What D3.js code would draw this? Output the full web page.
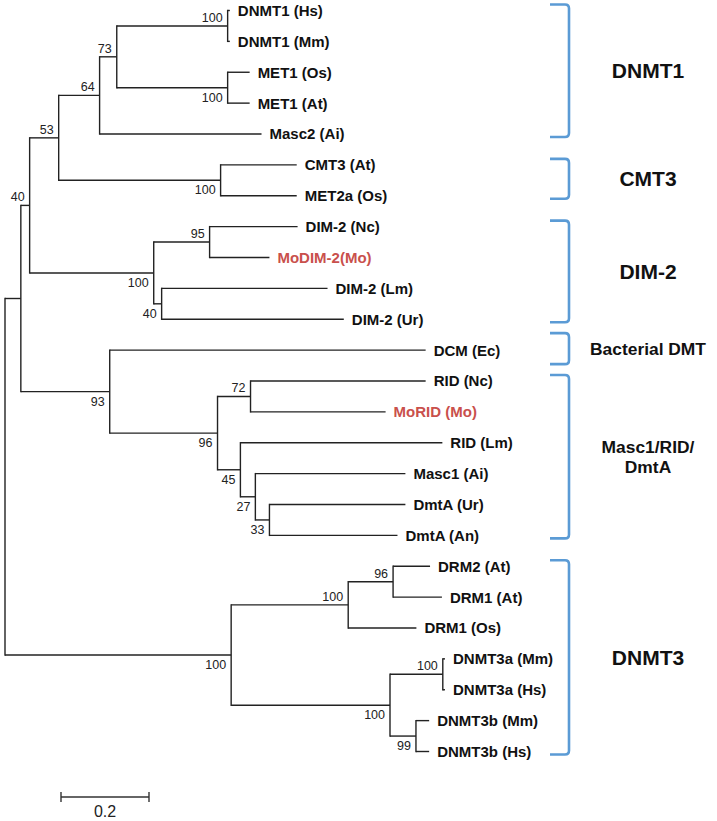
<!DOCTYPE html>
<html><head><meta charset="utf-8">
<script src="https://cdn.jsdelivr.net/npm/d3@7"></script>
<style>body{margin:0;background:#fff}</style>
</head><body>
<svg id="chart" width="717" height="821"></svg>
<script>
// ---- DATA ----
// tree nodes in pre-order: name, parent, branch length (substitutions/site), bootstrap
const nodeNames = ["root","n40","n53","nA","nB","nC","nDNMT1","DNMT1 (Hs)","DNMT1 (Mm)","nMET1","MET1 (Os)","MET1 (At)","Masc2 (Ai)","nCMT3","CMT3 (At)","MET2a (Os)","nDIM","n95","DIM-2 (Nc)","MoDIM-2(Mo)","n40b","DIM-2 (Lm)","DIM-2 (Ur)","n93","DCM (Ec)","n96","n72","RID (Nc)","MoRID (Mo)","n45","RID (Lm)","n27","Masc1 (Ai)","n33","DmtA (Ur)","DmtA (An)","nD3","nDRM","n96b","DRM2 (At)","DRM1 (At)","DRM1 (Os)","nDNMT3","n100c","DNMT3a (Mm)","DNMT3a (Hs)","n99","DNMT3b (Mm)","DNMT3b (Hs)"];
const parentNames = [null,"root","n40","n53","nA","nB","nC","nDNMT1","nDNMT1","nC","nMET1","nMET1","nB","nA","nCMT3","nCMT3","n53","nDIM","n95","n95","nDIM","n40b","n40b","n40","n93","n93","n96","n72","n72","n96","n45","n45","n27","n27","n33","n33","root","nD3","nDRM","n96b","n96b","nDRM","nD3","nDNMT3","n100c","n100c","nDNMT3","n99","n99"];
const branchLengths = [0,0.036,0.020,0.066,0.093,0.039,0.252,0.005,0.005,0.252,0.050,0.050,0.368,0.368,0.173,0.173,0.282,0.127,0.200,0.136,0.018,0.377,0.414,0.202,0.718,0.245,0.075,0.398,0.307,0.052,0.459,0.034,0.341,0.032,0.309,0.291,0.514,0.266,0.102,0.084,0.111,0.155,0.361,0.120,0.005,0.005,0.059,0.030,0.030];
const bootstraps = [null,null,40,53,64,73,100,null,null,100,null,null,null,100,null,null,100,95,null,null,40,null,null,93,null,96,72,null,null,45,null,27,null,33,null,null,100,100,96,null,null,null,100,100,null,null,99,null,null];
const highlighted = ["MoDIM-2(Mo)","MoRID (Mo)"];

const groupNames = ["DNMT1","CMT3","DIM-2","Bacterial DMT","Masc1/RID/|DmtA","DNMT3"];
const groupFirst = ["DNMT1 (Hs)","CMT3 (At)","DIM-2 (Nc)","DCM (Ec)","RID (Nc)","DRM2 (At)"];
const groupLast  = ["Masc2 (Ai)","MET2a (Os)","DIM-2 (Ur)","DCM (Ec)","DmtA (An)","DNMT3b (Hs)"];
const scaleBarValue = 0.2;
const scaleBarLabel = "0.2";

// ---- LAYOUT ----
const svg = d3.select("#chart");
const FONT = "Arial, 'Liberation Sans', Helvetica, sans-serif";
const rows = nodeNames.map((n,i)=>({name:n,parent:parentNames[i],len:branchLengths[i],bs:bootstraps[i]}));
const root = d3.stratify().id(d=>d.name).parentId(d=>d.parent)(rows);
root.eachBefore(n=>{ n.dist = n.parent ? n.parent.dist + n.data.len : 0; });
const leaves = root.leaves();
const y = d3.scalePoint().domain(leaves.map(d=>d.id)).range([10.5, 751.5]);
const x = d3.scaleLinear().domain([0,1]).range([5,445]);
leaves.forEach(l=>{ l.py = y(l.id); });
root.eachAfter(n=>{ if(n.children){ n.py = (n.children[0].py + n.children[n.children.length-1].py)/2; } });

const lineColor = "#222";
const g = svg.append("g");
// horizontal branches
g.selectAll("line.h").data(root.descendants().filter(d=>d.parent)).join("line")
  .attr("x1",d=>x(d.parent.dist)).attr("x2",d=>x(d.dist))
  .attr("y1",d=>d.py).attr("y2",d=>d.py)
  .attr("stroke",lineColor).attr("stroke-width",1.4);
// vertical connectors
g.selectAll("line.v").data(root.descendants().filter(d=>d.children)).join("line")
  .attr("x1",d=>x(d.dist)).attr("x2",d=>x(d.dist))
  .attr("y1",d=>d.children[0].py).attr("y2",d=>d.children[d.children.length-1].py)
  .attr("stroke",lineColor).attr("stroke-width",1.4).attr("stroke-linecap","square");

// leaf labels
g.selectAll("text.leaf").data(leaves).join("text")
  .attr("x",d=>x(d.dist)+8).attr("y",d=>d.py).attr("dy","0.36em")
  .attr("font-family",FONT).attr("font-weight","bold").attr("font-size",15)
  .attr("fill",d=>highlighted.includes(d.id)?"#c9504c":"#111")
  .text(d=>d.id);

// bootstrap labels: first child above its branch, others below
g.selectAll("text.bs").data(root.descendants().filter(d=>d.data.bs!=null)).join("text")
  .attr("x",d=>x(d.dist)-5)
  .attr("y",d=>{ const first = d.parent.children[0]===d; return first ? d.py-4 : d.py+14; })
  .attr("text-anchor","end").attr("font-family",FONT).attr("font-size",12.5).attr("fill","#222")
  .text(d=>d.data.bs);

// group brackets
const bx0 = 550, bx1 = 569, r = 4;
groupNames.forEach((name,i)=>{
  let top = y(groupFirst[i]) - 6, bot = y(groupLast[i]) + 3;
  if (bot - top < 31) { const m = (top+bot)/2; top = m-15.5; bot = m+15.5; }
  const p = d3.path();
  p.moveTo(bx0, top); p.lineTo(bx1-r, top); p.quadraticCurveTo(bx1, top, bx1, top+r);
  p.lineTo(bx1, bot-r); p.quadraticCurveTo(bx1, bot, bx1-r, bot); p.lineTo(bx0, bot);
  svg.append("path").attr("d",p.toString()).attr("fill","none").attr("stroke","#5b9bd5").attr("stroke-width",2.6);
  const lines = name.split("|");
  const fs = name.length > 6 ? 17.4 : 21;
  const lh = 20;
  const mid = (top+bot)/2;
  const t = svg.append("text").attr("text-anchor","middle").attr("font-family",FONT)
    .attr("font-weight","bold").attr("font-size",fs).attr("fill","#111");
  lines.forEach((ln,j)=>{
    t.append("tspan").attr("x",648).attr("y", mid + (j-(lines.length-1)/2)*lh).attr("dy","0.36em").text(ln);
  });
});

// scale bar
const sbx = 61, sby = 797, sbw = x(scaleBarValue)-x(0);
svg.append("line").attr("x1",sbx).attr("x2",sbx+sbw).attr("y1",sby).attr("y2",sby).attr("stroke","#333").attr("stroke-width",1.4);
[sbx, sbx+sbw].forEach(xx=>svg.append("line").attr("x1",xx).attr("x2",xx).attr("y1",sby-5).attr("y2",sby+5).attr("stroke","#333").attr("stroke-width",1.4));
svg.append("text").attr("x",sbx+sbw/2).attr("y",817).attr("text-anchor","middle")
  .attr("font-family",FONT).attr("font-size",16).attr("fill","#222").text(scaleBarLabel);
</script>
</body></html>
